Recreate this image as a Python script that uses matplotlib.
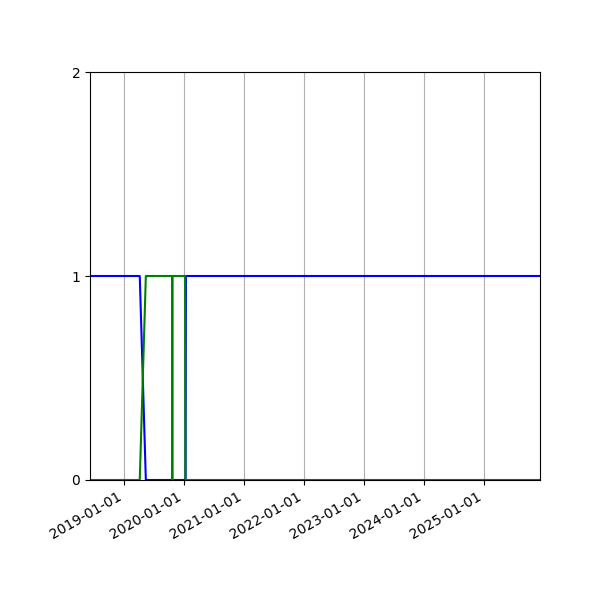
import matplotlib
matplotlib.use('Agg')
import matplotlib.dates as mdates
import numpy as np
from matplotlib import pyplot as plt

# blue series: on, short off period in 2019, then on again
blue_dates = ['2018-06-08', '2019-04-07', '2019-05-14', '2020-01-11',
              '2020-01-13', '2025-12-08']
blue_values = [1, 1, 0, 0, 1, 1]

# green series: roughly the opposite of blue
green_dates = ['2018-06-08', '2019-04-07', '2019-05-14', '2019-10-21',
               '2019-10-22', '2019-10-23', '2020-01-08', '2020-01-10',
               '2025-12-08']
green_values = [0, 0, 1, 1, 0, 1, 1, 0, 0]

x_start, x_end = '2018-06-08', '2025-12-08'
y_ticks = [0, 1, 2]

fig, ax = plt.subplots(figsize=(6, 6), dpi=100)
ax.plot(np.array(blue_dates, dtype='datetime64[D]'), blue_values,
        color='blue', linewidth=1.5)
ax.plot(np.array(green_dates, dtype='datetime64[D]'), green_values,
        color='green', linewidth=1.5)

ax.set_xlim(np.datetime64(x_start), np.datetime64(x_end))
ax.set_ylim(0, 2)
ax.set_yticks(y_ticks)
ax.xaxis.set_major_locator(mdates.YearLocator())
ax.xaxis.set_major_formatter(mdates.DateFormatter('%Y-%m-%d'))
ax.grid(True, axis='x')

fig.autofmt_xdate()
fig.subplots_adjust(left=0.15, right=0.9, top=0.88, bottom=0.2)
fig.savefig('out.png')
